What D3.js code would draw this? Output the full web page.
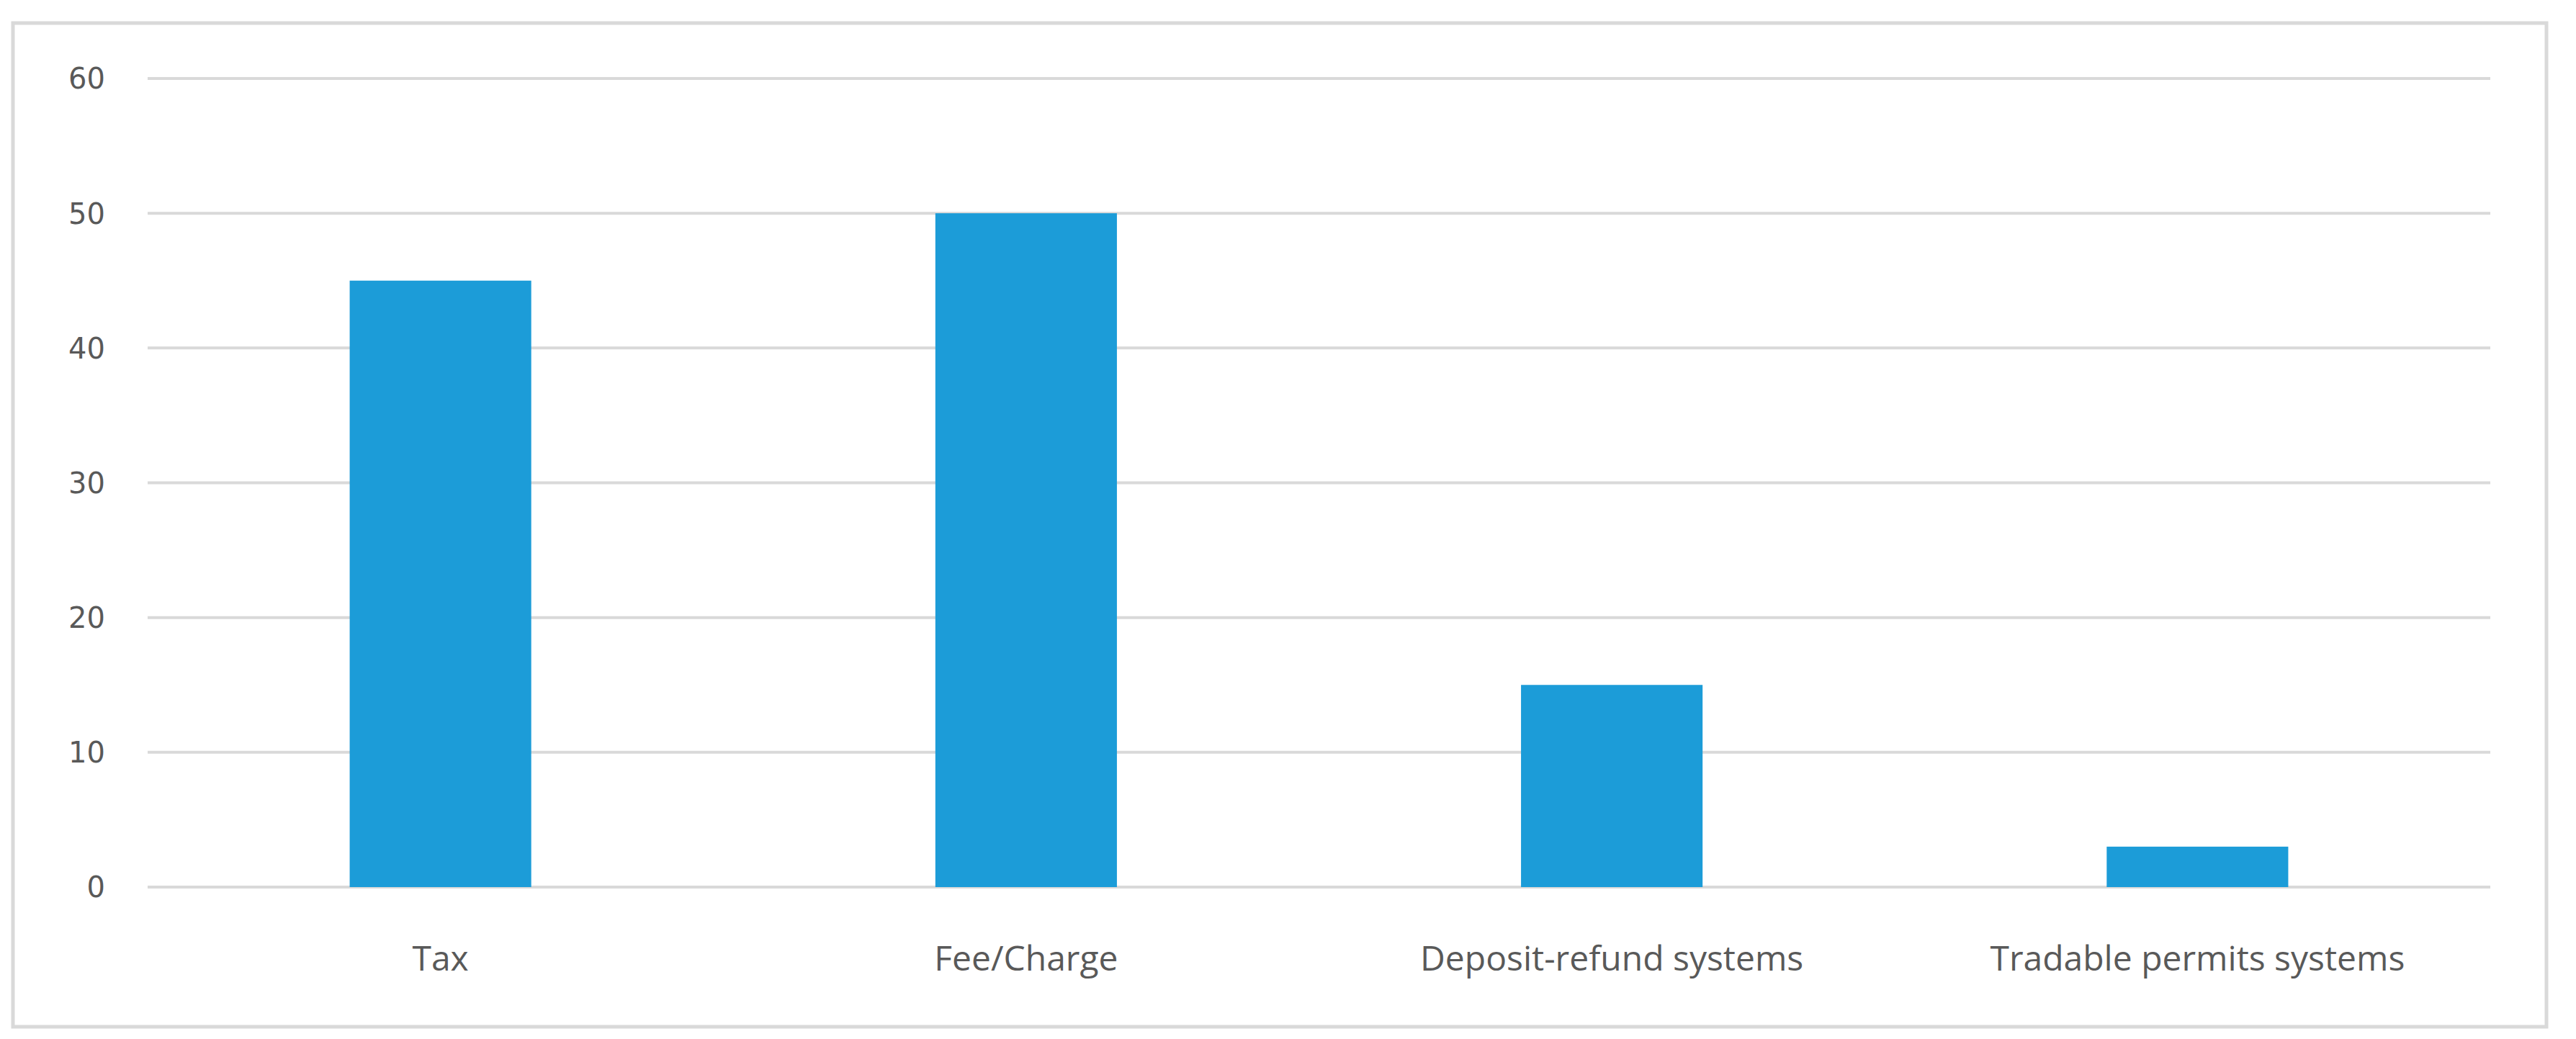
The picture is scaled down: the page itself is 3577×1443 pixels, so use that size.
<!DOCTYPE html>
<html><head><meta charset="utf-8">
<script src="https://cdn.jsdelivr.net/npm/d3@7"></script>
<style>body{margin:0;background:#fff}</style></head>
<body><svg id="c" width="3577" height="1443"></svg>
<script>
const categories = ["Tax","Fee/Charge","Deposit-refund systems","Tradable permits systems"];
const values = [45,50,15,3];
const yTicks = [0,10,20,30,40,50,60];

const svg = d3.select("#c");
svg.append("rect").attr("x",18).attr("y",32).attr("width",3518).attr("height",1394)
  .attr("fill","#fff").attr("stroke","#d9d9d9").attr("stroke-width",5);
const x = d3.scaleBand().domain(categories).range([205,3458]).paddingInner(0.69).paddingOuter(0.345);
const y = d3.scaleLinear().domain([0,60]).range([1232,109]);
const g = svg.append("g");
g.selectAll("line.grid").data(yTicks).join("line")
  .attr("x1",205).attr("x2",3458).attr("y1",d=>y(d)).attr("y2",d=>y(d))
  .attr("stroke","#d9d9d9").attr("stroke-width",4);
g.selectAll("text.yt").data(yTicks).join("text")
  .attr("x",146).attr("y",d=>y(d)).attr("dy","0.36em").attr("text-anchor","end")
  .attr("font-family","DejaVu Sans, Verdana").attr("font-size",40).attr("fill","#595959").text(d=>d);
g.selectAll("rect.bar").data(values).join("rect")
  .attr("x",(d,i)=>x(categories[i])).attr("width",x.bandwidth())
  .attr("y",d=>y(d)).attr("height",d=>y(0)-y(d)).attr("fill","#1c9cd8");
g.selectAll("text.xt").data(categories).join("text")
  .attr("x",d=>x(d)+x.bandwidth()/2).attr("y",1348).attr("text-anchor","middle")
  .attr("font-family","Open Sans, Noto Sans").attr("font-size",48).attr("fill","#595959").text(d=>d);
</script></body></html>
